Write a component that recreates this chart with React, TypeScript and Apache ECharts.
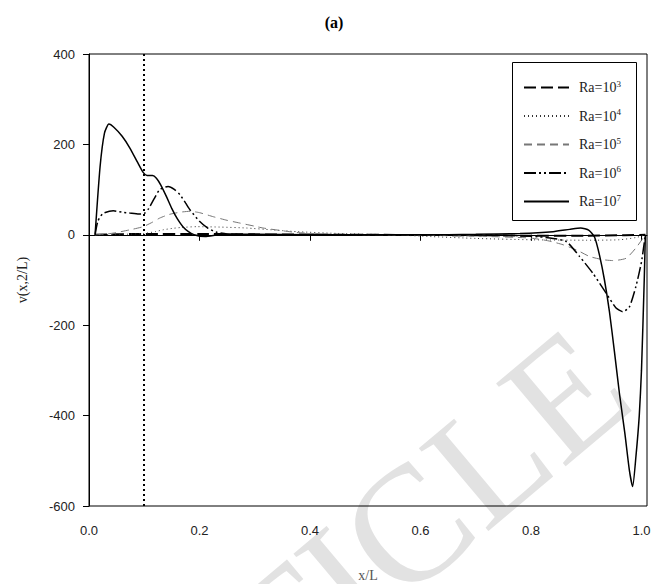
import React, { useEffect, useRef } from "react";
import * as echarts from "echarts";

// ---- data ----
const ra3X = [0.011, 0.05, 0.1, 0.2, 0.3, 0.5, 0.7, 0.8, 0.9, 0.97, 1.007];
const ra3Y = [0, 1, 2, 2, 1, 0, -1, -2, -2, -1, 0];

const ra4X = [0.011, 0.06, 0.1, 0.12, 0.134, 0.15, 0.165, 0.195, 0.24, 0.285, 0.33, 0.376, 0.45, 0.55, 0.62, 0.7, 0.8, 0.9, 0.96, 0.99, 1.007];
const ra4Y = [0, 1, 3, 7, 11, 14, 16, 18, 17, 15, 11, 7, 3, 0, -4, -8, -11, -12, -11, -6, 0];

const ra5X = [0.011, 0.04, 0.074, 0.098, 0.115, 0.128, 0.145, 0.165, 0.183, 0.2, 0.225, 0.25, 0.273, 0.3, 0.315, 0.35, 0.376, 0.42, 0.5, 0.6, 0.7, 0.797, 0.83, 0.858, 0.885, 0.906, 0.93, 0.948, 0.972, 0.99, 1.007];
const ra5Y = [0, 3, 11, 18, 28, 37, 45, 50, 52, 49, 40, 32, 26, 19, 15, 9, 5, 2, 0, -1, -3, -7, -13, -22, -35, -48, -55, -57, -52, -29, 0];

const ra6X = [0.011, 0.016, 0.025, 0.044, 0.06, 0.074, 0.09, 0.1, 0.108, 0.118, 0.128, 0.143, 0.155, 0.165, 0.175, 0.183, 0.2, 0.215, 0.23, 0.25, 0.3, 0.5, 0.7, 0.8, 0.84, 0.864, 0.888, 0.912, 0.936, 0.954, 0.966, 0.978, 0.99, 1.0, 1.007];
const ra6Y = [0, 30, 47, 53, 50, 48, 46, 47, 58, 80, 100, 107, 100, 88, 70, 55, 30, 15, 6, 2, 0, 0, 0, -3, -8, -15, -48, -85, -129, -162, -170, -160, -114, -60, 0];

const ra7X = [0.011, 0.02, 0.028, 0.036, 0.045, 0.06, 0.074, 0.088, 0.098, 0.105, 0.115, 0.122, 0.13, 0.14, 0.15, 0.16, 0.17, 0.18, 0.19, 0.21, 0.24, 0.3, 0.4, 0.5, 0.6, 0.7, 0.78, 0.84, 0.87, 0.89, 0.905, 0.915, 0.924, 0.933, 0.942, 0.951, 0.96, 0.97, 0.978, 0.984, 0.99, 0.996, 1.0, 1.005, 1.007];
const ra7Y = [0, 150, 225, 245, 238, 218, 192, 160, 138, 131, 131, 125, 110, 85, 58, 35, 18, 7, 0, -4, 1, 1, 0, 0, 0, 1, 3, 7, 12, 15, 10, -5, -45, -100, -170, -258, -350, -440, -520, -557, -490, -400, -300, -100, 0];

const seriesNames = ["3", "4", "5", "6", "7"];
const xTicks = [0, 0.2, 0.4, 0.6, 0.8, 1.0];
const refLineX = 0.1;

const zip = (xs: number[], ys: number[]) => xs.map((x, i) => [x, ys[i]]);

export default function App() {
  const ref = useRef<HTMLDivElement>(null);
  useEffect(() => {
    if (!ref.current) return;
    const chart = echarts.init(ref.current, null, { renderer: "svg" });
    const styles = [
      { color: "#000", width: 2, type: [12, 5] },
      { color: "#333", width: 1, type: [1, 3] },
      { color: "#777", width: 1, type: [8, 5] },
      { color: "#000", width: 1.5, type: [12, 3, 2, 3, 2, 3] },
      { color: "#000", width: 1.5, type: "solid" },
    ];
    const datas = [zip(ra3X, ra3Y), zip(ra4X, ra4Y), zip(ra5X, ra5Y), zip(ra6X, ra6Y), zip(ra7X, ra7Y)];
    const series: any[] = datas.map((d, i) => ({
      name: "Ra=10" + seriesNames[i],
      type: "line",
      data: d,
      symbol: "none",
      smooth: 0.2,
      lineStyle: styles[i],
      itemStyle: { color: styles[i].color },
      z: 2 + i,
    }));
    series[0].markLine = {
      silent: true,
      symbol: "none",
      label: { show: false },
      lineStyle: { color: "#000", width: 2, type: [2, 3] },
      data: [{ xAxis: refLineX }],
    };
    const serif = "Liberation Serif";
    const sans = "Liberation Sans";
    chart.setOption({
      animation: false,
      backgroundColor: "#fff",
      title: {
        text: "(a)",
        left: "center",
        top: 9,
        textStyle: { fontFamily: serif, fontWeight: "bold", fontSize: 16, color: "#000" },
      },
      graphic: [
        {
          type: "text",
          x: 78,
          y: 804,
          rotation: 0.7,
          z: -10,
          silent: true,
          style: {
            text: "ARTICLE",
            font: "165px 'Liberation Serif'",
            fill: "#e2e2e2",
            textAlign: "left",
            textVerticalAlign: "middle",
          },
        },
        {
          type: "rect",
          shape: { x: 512.5, y: 62.5, width: 124, height: 158 },
          style: { fill: "#fff", stroke: "#000", lineWidth: 1 },
          z: 10,
        },
      ],
      legend: {
        orient: "vertical",
        left: 523,
        top: 79,
        padding: 0,
        itemWidth: 45,
        itemHeight: 14,
        itemGap: 13,
        z: 20,
        itemStyle: { opacity: 0 },
        data: series.map((s) => s.name),
        formatter: (name: string) => `{b|Ra=10}{s|${name.slice(5)}}`,
        textStyle: {
          color: "#222",
          fontFamily: serif,
          fontSize: 14,
          rich: {
            b: { fontFamily: serif, fontSize: 14, color: "#222", padding: [0, 0, 0, 5] },
            s: { fontFamily: serif, fontSize: 9, color: "#222", padding: [0, 0, 8, 0] },
          },
        },
      },
      grid: {
        left: 89,
        right: 21,
        top: 54,
        bottom: 78,
        containLabel: false,
        outerBoundsMode: "none",
        show: true,
        borderColor: "#000",
        borderWidth: 1,
      },
      xAxis: {
        type: "value",
        min: 0,
        max: 1.01,
        name: "x/L",
        nameLocation: "middle",
        nameGap: 62,
        nameTextStyle: { fontFamily: serif, fontSize: 14, color: "#555" },
        axisLine: { show: true, lineStyle: { color: "#000", width: 1 } },
        axisTick: { show: true, length: 6, customValues: xTicks, lineStyle: { color: "#000" } },
        axisLabel: {
          customValues: xTicks,
          margin: 18,
          fontFamily: sans,
          fontSize: 13,
          color: "#222",
          formatter: (v: number) => v.toFixed(1),
        },
        splitLine: { show: false },
      },
      yAxis: {
        type: "value",
        min: -600,
        max: 400,
        interval: 200,
        name: "v(x,2/L)",
        nameLocation: "middle",
        nameGap: 60,
        nameTextStyle: { fontFamily: serif, fontSize: 14, color: "#222" },
        axisLine: { show: true, lineStyle: { color: "#000", width: 1 } },
        axisTick: { show: true, length: 6, lineStyle: { color: "#000" } },
        axisLabel: { margin: 14, fontFamily: sans, fontSize: 13, color: "#222" },
        splitLine: { show: false },
      },
      series,
    });
    return () => chart.dispose();
  }, []);
  return (
    <div
      ref={ref}
      style={{ position: "fixed", left: 0, top: 0, width: 668, height: 584, background: "#fff" }}
    />
  );
}
